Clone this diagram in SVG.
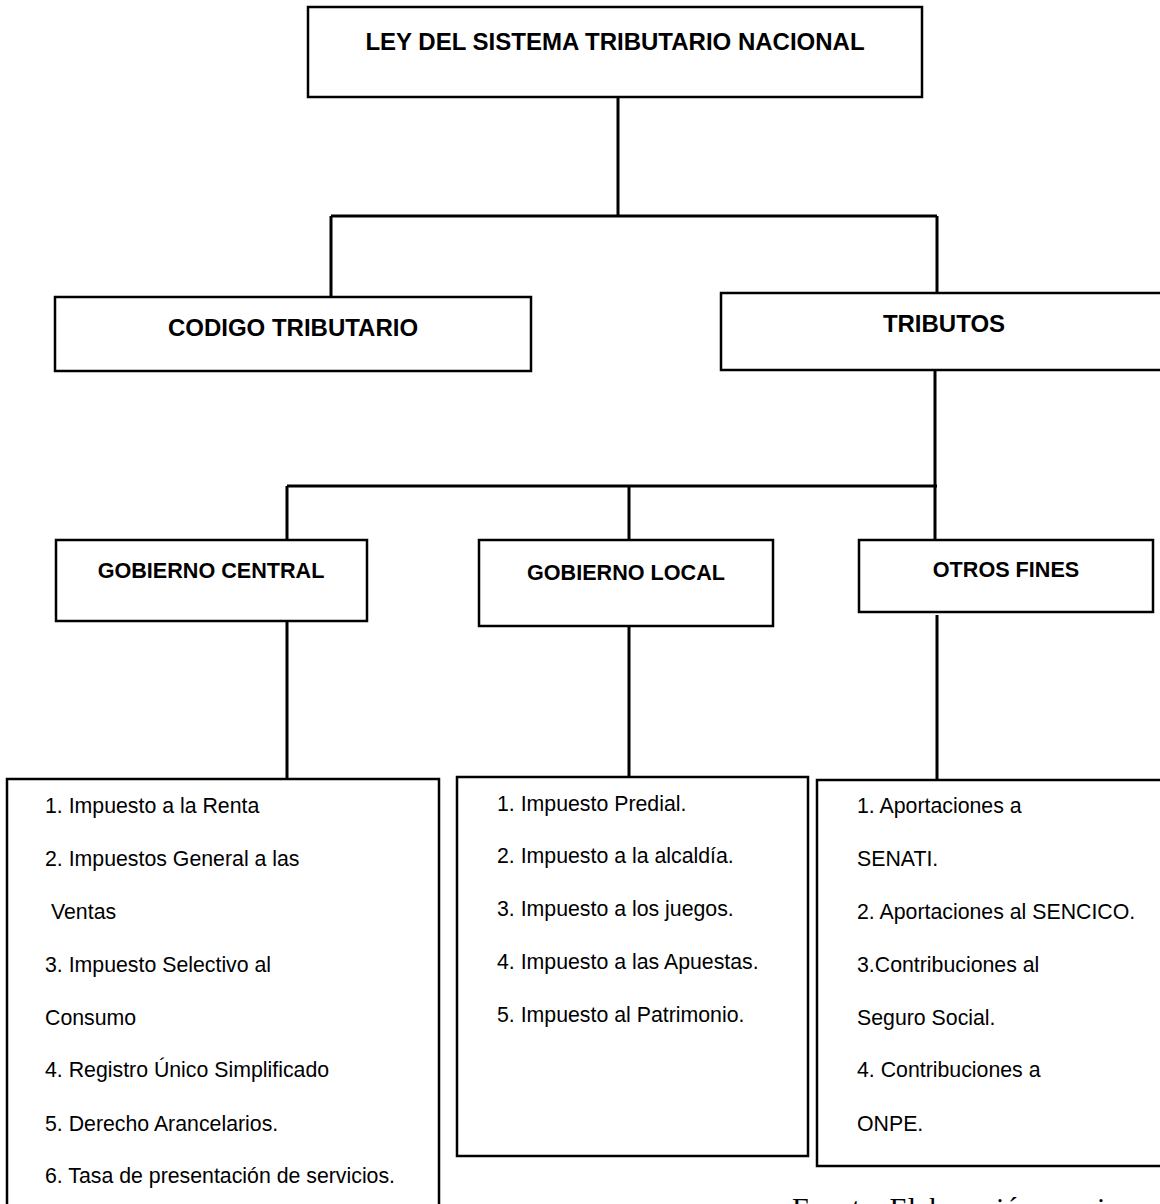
<svg xmlns="http://www.w3.org/2000/svg" width="1160" height="1204" viewBox="0 0 1160 1204">
<style>
.box{fill:#fff;stroke:#000;stroke-width:2.5}
.con{fill:none;stroke:#000;stroke-width:3}
.h1{font-family:"Liberation Sans",Arial,sans-serif;font-weight:bold;font-size:24px;fill:#000;text-anchor:middle}
.h2{font-family:"Liberation Sans",Arial,sans-serif;font-weight:bold;font-size:21.6px;fill:#000;text-anchor:middle}
.li{font-family:"Liberation Sans",Arial,sans-serif;font-size:21.3px;fill:#000}
.ft{font-family:"Liberation Serif","Times New Roman",serif;font-size:30px;fill:#000}
</style>
<rect width="1160" height="1204" fill="#fff"/>
<g id="connectors">
<path class="con" d="M618 97V216M331 216H937M331 216V297M937 216V293"/>
<path class="con" d="M935 370V540M287 486H937M287 486V540M629 486V540"/>
<path class="con" d="M287 621V779M629 612V777M937 615V780"/>
</g>
<g id="ley">
<rect class="box" x="308" y="7" width="614" height="90"/>
<text class="h1" x="615" y="50">LEY DEL SISTEMA TRIBUTARIO NACIONAL</text>
</g>
<g id="codigo">
<rect class="box" x="55" y="297" width="476" height="74"/>
<text class="h1" x="293" y="336">CODIGO TRIBUTARIO</text>
</g>
<g id="tributos">
<rect class="box" x="721" y="293" width="446" height="77"/>
<text class="h1" x="944" y="332">TRIBUTOS</text>
</g>
<g id="gob-central">
<rect class="box" x="56" y="540" width="311" height="81"/>
<text class="h2" x="211" y="578">GOBIERNO CENTRAL</text>
</g>
<g id="gob-local">
<rect class="box" x="479" y="540" width="294" height="86"/>
<text class="h2" x="626" y="580">GOBIERNO LOCAL</text>
</g>
<g id="otros-fines">
<rect class="box" x="859" y="540" width="294" height="72"/>
<text class="h2" x="1006" y="577">OTROS FINES</text>
</g>
<g id="lista-central">
<rect class="box" x="7" y="779" width="432" height="440"/>
<text class="li" x="45" y="813">1. Impuesto a la Renta</text>
<text class="li" x="45" y="866">2. Impuestos General a las</text>
<text class="li" x="51" y="919">Ventas</text>
<text class="li" x="45" y="972">3. Impuesto Selectivo al</text>
<text class="li" x="45" y="1025">Consumo</text>
<text class="li" x="45" y="1077">4. Registro Único Simplificado</text>
<text class="li" x="45" y="1131">5. Derecho Arancelarios.</text>
<text class="li" x="45" y="1183">6. Tasa de presentación de servicios.</text>
</g>
<g id="lista-local">
<rect class="box" x="457" y="777" width="351" height="379"/>
<text class="li" x="497" y="811">1. Impuesto Predial.</text>
<text class="li" x="497" y="863">2. Impuesto a la alcaldía.</text>
<text class="li" x="497" y="916">3. Impuesto a los juegos.</text>
<text class="li" x="497" y="969">4. Impuesto a las Apuestas.</text>
<text class="li" x="497" y="1022">5. Impuesto al Patrimonio.</text>
</g>
<g id="lista-otros">
<rect class="box" x="817" y="780" width="360" height="386"/>
<text class="li" x="857" y="813">1. Aportaciones a</text>
<text class="li" x="857" y="866">SENATI.</text>
<text class="li" x="857" y="919">2. Aportaciones al SENCICO.</text>
<text class="li" x="857" y="972">3.Contribuciones al</text>
<text class="li" x="857" y="1025">Seguro Social.</text>
<text class="li" x="857" y="1077">4. Contribuciones a</text>
<text class="li" x="857" y="1131">ONPE.</text>
</g>
<text class="ft" x="792" y="1218">Fuente: Elaboración propia</text>
</svg>
